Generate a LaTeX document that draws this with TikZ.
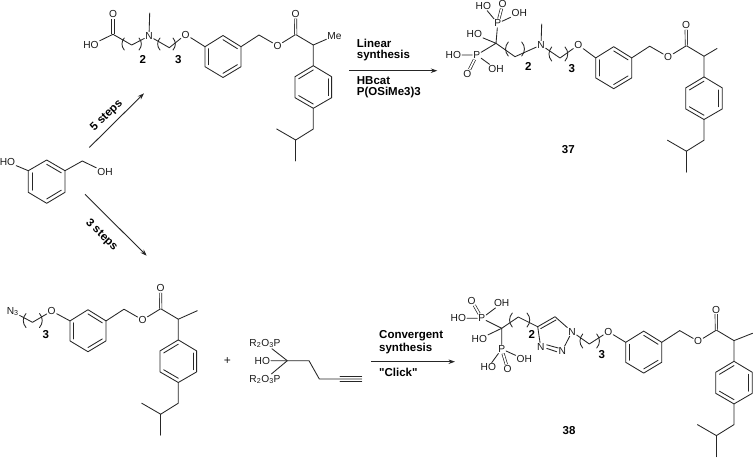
\documentclass[tikz,border=0pt]{standalone}
\usepackage{fontspec}
\setmainfont{Liberation Sans}[Ligatures=TeXOff]
\usetikzlibrary{calc,arrows.meta}
\tikzset{
  bond/.style={line width=0.85pt,color=black!85,line cap=round,line join=round},
  dbond/.style={line width=0.7pt,color=black!85,double,double distance=1.7pt},
  atom/.style={inner sep=0.8pt,font=\fontsize{10.2}{10}\selectfont,text=black!90},
  lab/.style={inner sep=0pt,font=\fontsize{11.5}{12}\bfseries\selectfont,text=black},
  txt/.style={inner sep=0pt,anchor=west,font=\fontsize{11.5}{12}\bfseries\selectfont,text=black},
  rxn/.style={line width=0.9pt,color=black!85,-{Stealth[length=6.5pt,width=4.5pt]}},
}
% inner line of an aromatic bond: centre, vertex, vertex
\newcommand\innerbond[3]{\draw[bond] ($(#1)!.80!(#2)$) -- ($(#1)!.80!(#3)$);}
% bracket pair: x left, x right, y top, y bottom
\newcommand\brackets[4]{\draw[bond] (#1,#3) to[bend right=42] (#1,#4);\draw[bond] (#2,#3) to[bend left=42] (#2,#4);}
% Aryl ester tail: prefix, shift x, shift y; ring vertex at (205,46.7) in local coordinates
\newcommand\esterbody[3]{
\begin{scope}[shift={(#2,#3)}]
  \coordinate (#1a1) at (205,46.7);\coordinate (#1a2) at (223,35.5);\coordinate (#1a3) at (241,46.7);
  \coordinate (#1a4) at (241,66.7);\coordinate (#1a5) at (223,77.5);\coordinate (#1a6) at (205,66.7);
  \coordinate (#1ac) at (223,56.6);
  \draw[bond] (#1a1)--(#1a2)--(#1a3)--(#1a4)--(#1a5)--(#1a6)--cycle;
  \innerbond{#1ac}{#1a1}{#1a6}\innerbond{#1ac}{#1a2}{#1a3}\innerbond{#1ac}{#1a4}{#1a5}
  \coordinate (#1ch) at (259,35);
  \node[atom] (#1Oe) at (277.5,45.7) {O};
  \coordinate (#1co) at (295.7,34.5);
  \node[atom] (#1Ok) at (295.5,14) {O};
  \coordinate (#1cm) at (313.3,45);
  \coordinate (#1b1) at (313.3,65.7);\coordinate (#1b2) at (331.6,76.7);\coordinate (#1b3) at (331.6,97.7);
  \coordinate (#1b4) at (313.3,108.3);\coordinate (#1b5) at (295,97.7);\coordinate (#1b6) at (295,76.7);
  \coordinate (#1bc) at (313.3,87);
  \draw[bond] (#1a3)--(#1ch)--(#1Oe)--(#1co)--(#1cm)--(#1b1);
  \draw[dbond] (#1co)--(#1Ok);
  \draw[bond] (#1b1)--(#1b2)--(#1b3)--(#1b4)--(#1b5)--(#1b6)--cycle;
  \innerbond{#1bc}{#1b1}{#1b6}\innerbond{#1bc}{#1b2}{#1b3}\innerbond{#1bc}{#1b4}{#1b5}
  \coordinate (#1i1) at (313.3,129);\coordinate (#1i2) at (295.7,140);
  \coordinate (#1i3) at (276.7,129);\coordinate (#1i4) at (295.7,161);
  \draw[bond] (#1b4)--(#1i1)--(#1i2)--(#1i3);\draw[bond] (#1i2)--(#1i4);
\end{scope}}
\begin{document}
\begin{tikzpicture}[x=1pt,y=-1pt]
\useasboundingbox (0,0) rectangle (754,458);
\fill[white] (0,0) rectangle (754,458);

%% ---------- top-left intermediate ----------
\esterbody{p}{0}{0}
\node[atom] (pMe) at (334.5,35.7) {Me};
\draw[bond] (pcm)--(pMe);
\node[atom] (pO0) at (113,14) {O};
\node[atom] (pHO) at (91,45) {HO};
\coordinate (pc1) at (113,34.3);
\coordinate (pc2) at (131.7,45);
\node[atom] (pN) at (149,36) {N};
\coordinate (pMeN) at (149.7,13);
\coordinate (pc3) at (169.3,47.7);
\node[atom] (pO) at (185.7,34.5) {O};
\draw[dbond] (pc1)--(pO0);
\draw[bond] (pHO)--(pc1)--(pc2)--(pN)--(pc3)--(pO)--(pa1);
\draw[bond] (pN)--(pMeN);
\brackets{124.3}{139}{38}{50}
\brackets{160}{173}{38}{50}
\node[lab] (pn2) at (142.7,59.3) {2};
\node[lab] (pn3) at (178.3,59.3) {3};

%% ---------- compound 37 ----------
\esterbody{q}{390.7}{11.2}
\coordinate (qm) at (717,48.5);
\draw[bond] (qcm)--(qm);
\coordinate (qC) at (496,43.3);
\node[atom] (qP1) at (497.7,23.3) {P};
\node[atom] (qHO1) at (483.3,6) {HO};
\node[atom] (qO1) at (502.7,4) {O};
\node[atom] (qOH1) at (519.3,13.3) {OH};
\node[atom] (qHO) at (474.3,34.3) {HO};
\node[atom] (qP2) at (476.7,55) {P};
\node[atom] (qHO2) at (453.3,55) {HO};
\node[atom] (qO2) at (467.3,74) {O};
\node[atom] (qOH2) at (496,69) {OH};
\coordinate (qc2) at (515,56.7);
\node[atom] (qN) at (541,45) {N};
\coordinate (qMeN) at (541.7,24);
\coordinate (qc3) at (560,58);
\node[atom] (qO) at (578.3,45) {O};
\draw[bond] (qC)--(qP1);\draw[bond] (qP1)--(qHO1);\draw[bond] (qP1)--(qOH1);
\draw[dbond] (qP1)--(qO1);
\draw[bond] (qHO)--(qC)--(qP2);
\draw[bond] (qHO2)--(qP2)--(qOH2);
\draw[dbond] (qP2)--(qO2);
\draw[bond] (qC)--(qc2)--(qN)--(qc3)--(qO)--(qa1);
\draw[bond] (qN)--(qMeN);
\brackets{508.3}{521.7}{42}{56}
\brackets{551.7}{565}{47}{61}
\node[lab] (qn2) at (528.3,66) {2};
\node[lab] (qn3) at (571.7,69) {3};
\node[lab] (qname) at (568.3,150) {37};

%% ---------- 3-hydroxybenzyl alcohol ----------
\coordinate (s1) at (28.3,170.7);\coordinate (s2) at (46.7,160);\coordinate (s3) at (65,170.7);
\coordinate (s4) at (65,192.3);\coordinate (s5) at (46.7,203.3);\coordinate (s6) at (28.3,192.3);
\coordinate (sc) at (46.7,181.5);\coordinate (sch) at (82.3,161);
\node[atom] (sHO) at (7.5,162) {HO};
\node[atom] (sOH) at (105,172) {OH};
\draw[bond] (s1)--(s2)--(s3)--(s4)--(s5)--(s6)--cycle;
\innerbond{sc}{s1}{s6}\innerbond{sc}{s2}{s3}\innerbond{sc}{s4}{s5}
\draw[bond] (sHO)--(s1);\draw[bond] (s3)--(sch)--(sOH);

%% ---------- step arrows ----------
\coordinate (ar1a) at (89.3,147.5);\coordinate (ar1b) at (144,93.3);
\coordinate (ar2a) at (85,194.3);\coordinate (ar2b) at (146.7,255.7);
\draw[rxn] (ar1a)--(ar1b);
\draw[rxn] (ar2a)--(ar2b);
\node[lab,rotate=44] (l5) at (106.7,115.7) {5 steps};
\node[lab,rotate=-44] (l3) at (101.5,235) {3 steps};

%% ---------- linear synthesis arrow ----------
\coordinate (ar3a) at (349.3,70.7);\coordinate (ar3b) at (437.3,70.7);
\draw[rxn] (ar3a)--(ar3b);
\node[txt] (t1) at (356.7,43.3) {Linear};
\node[txt] (t2) at (356.7,56) {synthesis};
\node[txt] (t3) at (356.7,81) {HBcat};
\node[txt] (t4) at (356.7,92.7) {P(OSiMe3)3};

%% ---------- azide ----------
\esterbody{r}{-135}{274.2}
\coordinate (rm) at (197.3,310.7);
\draw[bond] (rcm)--(rm);
\node[atom] (rN3) at (12.7,311.7) {N\textsubscript{3}};
\coordinate (rc) at (32.5,322.3);
\node[atom] (rO) at (51.7,311) {O};
\draw[bond] (rN3)--(rc)--(rO)--(ra1);
\brackets{26}{39.5}{313.5}{327.5}
\node[lab] (rn3) at (45.7,334.3) {3};
\node[atom,font=\fontsize{12}{12}\selectfont] (plus) at (227.3,361.5) {+};

%% ---------- alkyne bisphosphonate ----------
\node[atom] (aP1) at (265,343.3) {R\textsubscript{2}O\textsubscript{3}P};
\node[atom] (aHO) at (262.3,360.7) {HO};
\node[atom] (aP2) at (265,379.3) {R\textsubscript{2}O\textsubscript{3}P};
\coordinate (aC) at (287.3,360.7);\coordinate (ac1) at (309,360.7);
\coordinate (ac2) at (319.3,379);\coordinate (ac3) at (340,379);\coordinate (ac4) at (361.7,379);
\draw[bond] (aP1)--(aC)--(aP2);
\draw[bond] (aHO)--(aC)--(ac1)--(ac2)--(ac4);
\draw[bond] ($(ac3)+(0,-2.3)$)--($(ac4)+(0,-2.3)$);
\draw[bond] ($(ac3)+(0,2.3)$)--($(ac4)+(0,2.3)$);

%% ---------- convergent arrow ----------
\coordinate (ar4a) at (371,361.7);\coordinate (ar4b) at (455,361.7);
\draw[rxn] (ar4a)--(ar4b);
\node[txt] (t5) at (379,336) {Convergent};
\node[txt] (t6) at (379,348.3) {synthesis};
\node[txt] (t7) at (379,372.7) {"Click"};

%% ---------- compound 38 ----------
\esterbody{u}{420.7}{295.6}
\coordinate (um) at (752.5,333.3);
\draw[bond] (ucm)--(um);
\coordinate (uC) at (501.7,328.3);
\node[atom] (uP1) at (481.7,318.3) {P};
\node[atom] (uHO1) at (458.3,318.3) {HO};
\node[atom] (uO1) at (471.7,300.7) {O};
\node[atom] (uOH1) at (501.7,303.3) {OH};
\node[atom] (uHO) at (479.3,339) {HO};
\node[atom] (uP2) at (501.7,349) {P};
\node[atom] (uHO2) at (488.3,367.3) {HO};
\node[atom] (uO2) at (507.7,369) {O};
\node[atom] (uOH2) at (524.3,359.3) {OH};
\coordinate (uc2) at (518.3,317);
\coordinate (uC4) at (537.7,326.7);\coordinate (uC5) at (555,316.7);
\node[atom] (uN1) at (572,331.7) {N};
\node[atom] (uN2) at (562.3,350.7) {N};
\node[atom] (uN3) at (540.7,347.3) {N};
\coordinate (uc3) at (589.3,344);
\node[atom] (uO) at (608.3,331.7) {O};
\draw[bond] (uHO1)--(uP1)--(uC);\draw[bond] (uP1)--(uOH1);
\draw[dbond] (uP1)--(uO1);
\draw[bond] (uHO)--(uC)--(uP2);
\draw[bond] (uHO2)--(uP2)--(uOH2);
\draw[dbond] (uP2)--(uO2);
\draw[bond] (uC)--(uc2)--(uC4)--(uC5)--(uN1)--(uN2);
\draw[bond] (uC4)--(uN3);
\draw[bond] (540.7,328.6)--(556,320);
\draw[bond] (546.7,344.8)--(558.3,348);
\draw[bond] (546.7,348.4)--(556.7,351.7);
\draw[bond] (uN1)--(uc3)--(uO)--(ua1);
\brackets{512.3}{527}{313}{327}
\brackets{582.7}{596.7}{334}{348}
\node[lab] (un2) at (531.7,334.5) {2};
\node[lab] (un3) at (601.7,355) {3};
\node[lab] (uname) at (569,430.7) {38};
\end{tikzpicture}
\end{document}
